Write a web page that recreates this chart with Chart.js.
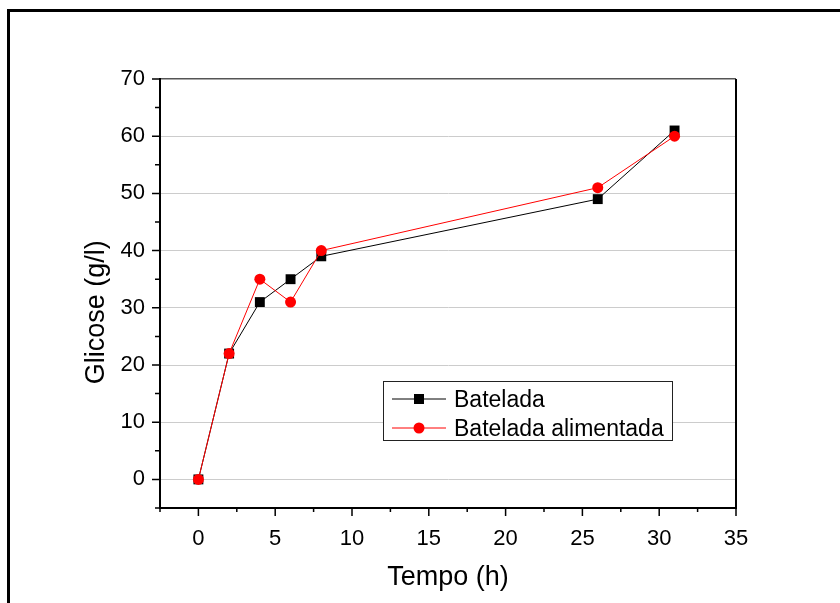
<!DOCTYPE html>
<html>
<head>
<meta charset="utf-8">
<script src="https://cdn.jsdelivr.net/npm/chart.js@4/dist/chart.umd.min.js"></script>
<style>
  html, body { margin: 0; padding: 0; background: #fff; overflow: hidden; }
  #wrap { position: relative; width: 840px; height: 603px; }
  #frame { position: absolute; left: 7px; top: 9px; width: 900px; height: 700px;
           border-top: 3px solid #000; border-left: 3px solid #000; }
  #legend { position: absolute; left: 383px; top: 381px; width: 290px; height: 60px;
            box-sizing: border-box; border: 1px solid #222; background: #fff;
            font-family: "Liberation Sans", Arial, sans-serif; font-size: 23px; color: #000; }
  .row { position: absolute; left: 8px; height: 28px; display: flex; align-items: center; }
  .row svg { margin-right: 8px; }
</style>
</head>
<body>
<div id="wrap">
  <canvas id="chart" width="840" height="603"></canvas>
  <div id="frame"></div>
  <div id="legend"></div>
</div>
<script>
const tempo = [0, 2, 4, 6, 8, 26, 31];
const batelada = [0, 22, 31, 35, 39, 49, 61];
const alimentada = [0, 22, 35, 31, 40, 51, 60];
const seriesNames = ["Batelada", "Batelada alimentada"];

const xTicks = [0, 5, 10, 15, 20, 25, 30, 35];
const xMinorTicks = [-2.5, 2.5, 7.5, 12.5, 17.5, 22.5, 27.5, 32.5];
const yTicks = [0, 10, 20, 30, 40, 50, 60, 70];
const yMinorTicks = [-5, 5, 15, 25, 35, 45, 55, 65];

Chart.defaults.font.family = '"Liberation Sans", Arial, sans-serif';
Chart.defaults.color = "#000";

// tick marks (major + minor) and right side of the frame
const tickMarks = {
  id: "tickMarks",
  afterDraw(chart) {
    const { ctx, chartArea, scales: { x, y } } = chart;
    ctx.save();
    ctx.strokeStyle = "#000";
    ctx.lineWidth = 1.5;
    ctx.beginPath();
    xTicks.forEach(v => {
      const px = x.getPixelForValue(v);
      ctx.moveTo(px, chartArea.bottom);
      ctx.lineTo(px, chartArea.bottom + 8);
    });
    xMinorTicks.forEach(v => {
      const px = x.getPixelForValue(v);
      ctx.moveTo(px, chartArea.bottom);
      ctx.lineTo(px, chartArea.bottom + 4);
    });
    yTicks.forEach(v => {
      const py = y.getPixelForValue(v);
      ctx.moveTo(chartArea.left, py);
      ctx.lineTo(chartArea.left - 8, py);
    });
    yMinorTicks.forEach(v => {
      const py = y.getPixelForValue(v);
      ctx.moveTo(chartArea.left, py);
      ctx.lineTo(chartArea.left - 5, py);
    });
    ctx.stroke();
    ctx.lineWidth = 2;
    ctx.beginPath();
    ctx.moveTo(chartArea.right, chartArea.top);
    ctx.lineTo(chartArea.right, chartArea.bottom);
    ctx.stroke();
    ctx.restore();
  }
};

const chart = new Chart(document.getElementById("chart"), {
  type: "line",
  data: {
    datasets: [{
      label: seriesNames[0],
      data: tempo.map((t, i) => ({ x: t, y: batelada[i] })),
      borderColor: "#000",
      backgroundColor: "#000",
      borderWidth: 1,
      pointStyle: "rect",
      pointRadius: 7,
      pointBorderWidth: 0,
      tension: 0,
      order: 2
    }, {
      label: seriesNames[1],
      data: tempo.map((t, i) => ({ x: t, y: alimentada[i] })),
      borderColor: "#ff0000",
      backgroundColor: "#ff0000",
      borderWidth: 1,
      pointStyle: "circle",
      pointRadius: 5.5,
      pointBorderWidth: 0,
      tension: 0,
      order: 1
    }]
  },
  options: {
    responsive: false,
    animation: false,
    layout: { padding: { left: 80, top: 79, right: 104, bottom: 0 } },
    plugins: { legend: { display: false }, tooltip: { enabled: false } },
    scales: {
      x: {
        type: "linear",
        min: -2.5,
        max: 35,
        afterBuildTicks: s => { s.ticks = xTicks.map(v => ({ value: v })); },
        afterFit: s => { s.height = 95; },
        grid: { display: false },
        border: { display: true, color: "#000", width: 2 },
        ticks: { font: { size: 22 }, padding: 10, maxRotation: 0, callback: v => String(v) },
        title: { display: true, text: "Tempo (h)", font: { size: 27 }, padding: { top: 0, bottom: 9 } }
      },
      y: {
        min: -5,
        max: 70,
        afterBuildTicks: s => { s.ticks = yTicks.map(v => ({ value: v })); },
        afterFit: s => { s.width = 80; },
        grid: {
          drawTicks: false,
          color: c => c.tick && c.tick.value === 70 ? "#555" : "#cccccc",
          lineWidth: c => c.tick && c.tick.value === 70 ? 1.5 : 1
        },
        border: { display: true, color: "#000", width: 2 },
        ticks: { font: { size: 22 }, padding: 15, callback: v => String(v) },
        title: { display: true, text: "Glicose (g/l)     ", font: { size: 27 }, padding: 0 }
      }
    }
  },
  plugins: [tickMarks]
});

// legend box inside the plot, built from the datasets
const legend = document.getElementById("legend");
chart.data.datasets.forEach((ds, i) => {
  const row = document.createElement("div");
  row.className = "row";
  row.style.top = (i === 0 ? 3 : 32) + "px";
  const marker = ds.pointStyle === "rect"
    ? '<rect x="22" y="9" width="10" height="10" fill="' + ds.backgroundColor + '"/>'
    : '<circle cx="27" cy="14" r="5.5" fill="' + ds.backgroundColor + '"/>';
  row.innerHTML = '<svg width="54" height="28"><line x1="0" y1="14" x2="54" y2="14" stroke="' +
    ds.borderColor + '" stroke-width="1"/>' + marker + '</svg><span>' + ds.label + '</span>';
  legend.appendChild(row);
});
</script>
</body>
</html>
